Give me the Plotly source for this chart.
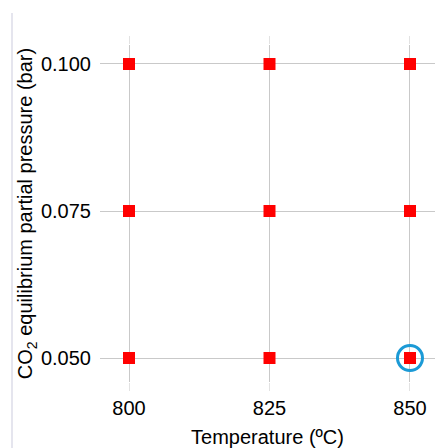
import plotly.graph_objects as go

# Experimental grid: every temperature is run at every CO2 partial pressure
temperatures = [800, 825, 850]
pressures = [0.050, 0.075, 0.100]
tick_temps = [800, 825, 850]
tick_press = [0.050, 0.075, 0.100]
tick_press_labels = ["0.050", "0.075", "0.100"]

# Highlighted run condition
highlight_temp = [850]
highlight_press = [0.050]

grid_x = [t for p in pressures for t in temperatures]
grid_y = [p for p in pressures for t in temperatures]

fig = go.Figure()

fig.add_trace(go.Scatter(
    x=grid_x, y=grid_y, mode="markers",
    marker=dict(symbol="square", size=12, color="#ff0000",
                line=dict(width=0)),
    showlegend=False, hoverinfo="x+y",
))

fig.add_trace(go.Scatter(
    x=highlight_temp, y=highlight_press, mode="markers",
    marker=dict(symbol="circle-open", size=25, color="#1b9ad6",
                line=dict(width=3, color="#1b9ad6")),
    showlegend=False, hoverinfo="skip",
))

font_family = "Liberation Sans, Arial, sans-serif"

fig.update_layout(
    width=435, height=448,
    margin=dict(l=100, r=0, t=45, b=66),
    paper_bgcolor="white", plot_bgcolor="white",
    font=dict(family=font_family, size=20, color="black"),
    xaxis=dict(
        range=[794.84, 854.45],
        tickvals=tick_temps, ticktext=[str(t) for t in tick_temps],
        showgrid=True, gridcolor="#c9c9c9", gridwidth=1,
        zeroline=False, showline=False, automargin=False,
        ticks="outside", ticklen=8, tickcolor="#e2e2e2", tickwidth=1,
        mirror="ticks",
        tickfont=dict(size=20),
        title=dict(text="Temperature (ºC)", font=dict(size=20), standoff=13),
    ),
    yaxis=dict(
        range=[0.04592, 0.10323],
        tickvals=tick_press, ticktext=tick_press_labels,
        showgrid=True, gridcolor="#c9c9c9", gridwidth=1,
        zeroline=False, showline=False, automargin=False,
        ticks="", ticklabelstandoff=8,
        tickfont=dict(size=20),
        title=dict(text="CO<sub>2</sub> equilibrium partial pressure (bar)",
                   font=dict(size=20), standoff=2),
    ),
    shapes=[dict(
        type="line", xref="paper", yref="paper",
        x0=(12 - 100) / 335, x1=(12 - 100) / 335,
        y0=-66 / 337, y1=(448 - 66 - 13) / 337,
        line=dict(color="#dcdde8", width=1.5),
        layer="above",
    )],
)

fig.write_html("out.html")
